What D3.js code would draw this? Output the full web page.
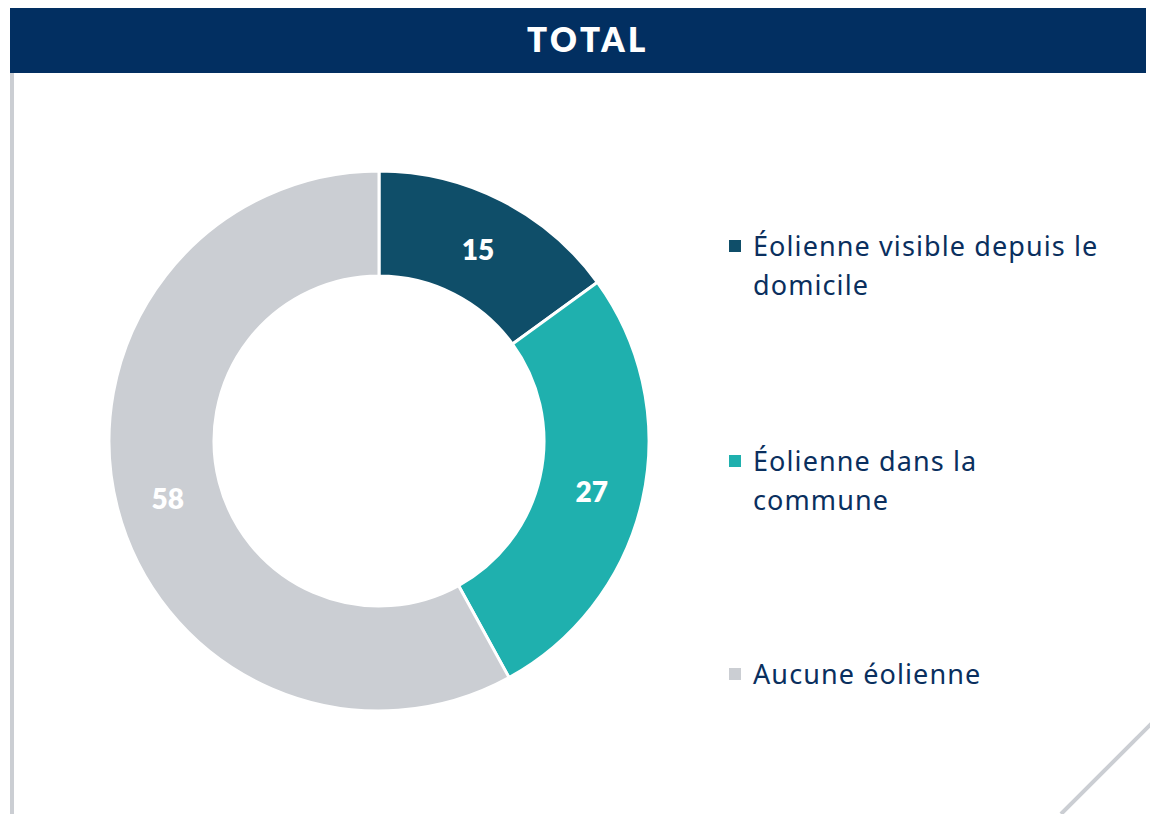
<!DOCTYPE html>
<html>
<head>
<meta charset="utf-8">
<script src="https://cdn.jsdelivr.net/npm/d3@7"></script>
<style>
  body { margin: 0; background: #fff; }
  svg { display: block; font-family: "Lato", "Noto Sans", sans-serif; }
</style>
</head>
<body>
<svg id="chart" width="1150" height="814"></svg>
<script>
// Données
const title = "TOTAL";
const categories = ["Éolienne visible depuis le domicile", "Éolienne dans la commune", "Aucune éolienne"];
const legendLines = [["Éolienne visible depuis le", "domicile"], ["Éolienne dans la", "commune"], ["Aucune éolienne"]];
const values = [15, 27, 58];
const colors = ["#0f4e69", "#1fb0ae", "#cbced3"];

const svg = d3.select("#chart");

// Bandeau du titre
svg.append("rect")
  .attr("x", 10).attr("y", 8)
  .attr("width", 1136).attr("height", 65)
  .attr("fill", "#022f61");
svg.append("text")
  .attr("x", 588).attr("y", 52)
  .attr("text-anchor", "middle")
  .attr("fill", "#fff")
  .attr("font-size", 33)
  .attr("font-weight", 800)
  .attr("letter-spacing", 3.5)
  .text(title);

// Bordures grises
svg.append("line")
  .attr("x1", 12).attr("x2", 12)
  .attr("y1", 73).attr("y2", 814)
  .attr("stroke", "#cbced3").attr("stroke-width", 4);
svg.append("line")
  .attr("x1", 1152).attr("y1", 723)
  .attr("x2", 1061).attr("y2", 814)
  .attr("stroke", "#cbced3").attr("stroke-width", 4);

// Anneau
const cx = 379, cy = 441;
const pie = d3.pie().sort(null).value(d => d)(values);
const arc = d3.arc().innerRadius(165).outerRadius(270);
const labelArc = d3.arc().innerRadius(218).outerRadius(218);

const g = svg.append("g").attr("transform", `translate(${cx},${cy})`);
g.selectAll("path")
  .data(pie)
  .enter()
  .append("path")
  .attr("d", arc)
  .attr("fill", (d, i) => colors[i])
  .attr("stroke", "#fff")
  .attr("stroke-width", 3);

g.selectAll("text.val")
  .data(pie)
  .enter()
  .append("text")
  .classed("val", true)
  .attr("transform", d => {
    const [x, y] = labelArc.centroid(d);
    return `translate(${x},${y})`;
  })
  .attr("text-anchor", "middle")
  .attr("dy", "0.48em")
  .attr("fill", "#fff")
  .attr("font-size", 28)
  .attr("font-weight", 800)
  .text(d => d.data);

// Légende
const legendY = [246, 461, 674];
const legend = svg.append("g");
legendLines.forEach((lines, i) => {
  legend.append("rect")
    .attr("x", 729).attr("y", legendY[i] - 6)
    .attr("width", 12).attr("height", 12)
    .attr("fill", colors[i]);
  const t = legend.append("text")
    .attr("x", 753).attr("y", legendY[i] + 10)
    .attr("fill", "#0a2f5e")
    .attr("font-family", "'Noto Sans', sans-serif")
    .attr("font-size", 27)
    .attr("letter-spacing", 1.1);
  lines.forEach((line, j) => {
    t.append("tspan")
      .attr("x", 753)
      .attr("dy", j === 0 ? 0 : 39)
      .text(line);
  });
});
</script>
</body>
</html>
